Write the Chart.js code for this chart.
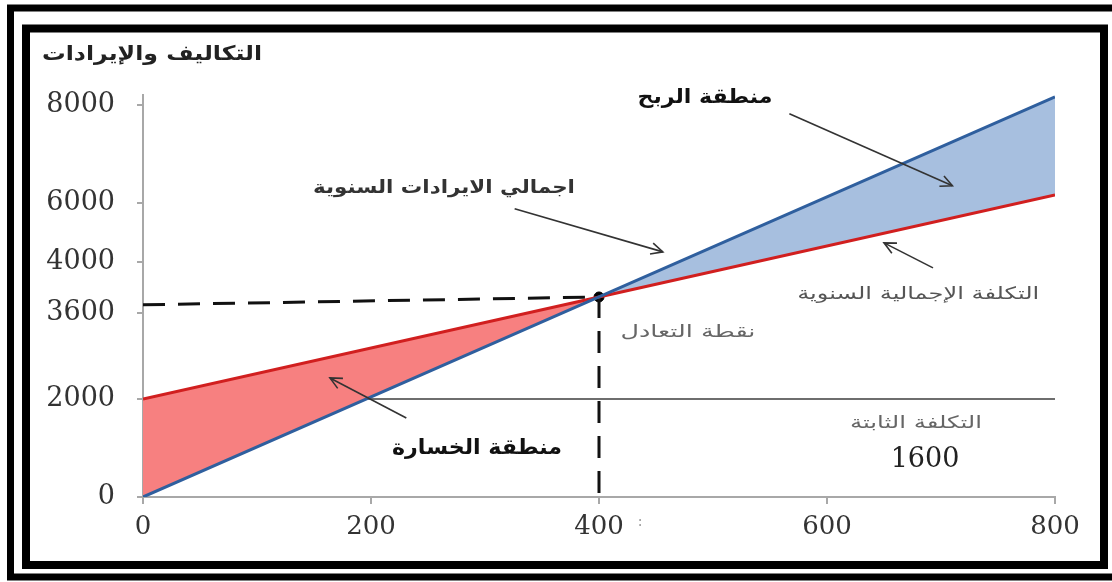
<!DOCTYPE html>
<html>
<head>
<meta charset="utf-8">
<script src="https://cdn.jsdelivr.net/npm/chart.js@4"></script>
<style>
  html, body { margin: 0; padding: 0; background: #fff; }
  #box { width: 1112px; height: 582px; position: relative; }
</style>
</head>
<body>
<div id="box"><canvas id="chart"></canvas></div>
<script>
// valeurs
const units = [0, 400, 800]
const revenue = [0, 4080, 8160]
const totalCost = [2000, 4080, 6160]
const fixedX = [0, 800]
const fixedCost = [2000, 2000]
const breakEvenX = [0, 400, 400]
const breakEvenY = [3920, 4080, 0]
const xTicks = [0, 200, 400, 600, 800]
const yTicks = [0, 2000, 3760, 4800, 6000, 8000]
const yTickLabels = ['0', '2000', '3600', '4000', '6000', '8000']

const AR = '"DejaVu Sans", sans-serif'
const SERIF = '"DejaVu Serif", "Liberation Serif", serif'

// annotations (unités des données), w = largeur visée du texte
const notes = [
    { text: 'منطقة الربح', x: 493, y: 8140, size: 20, w: 135, color: '#111', bold: true, from: [567, 7816], to: [710, 6347] },
    { text: 'اجمالي الايرادات السنوية', x: 264, y: 6306, size: 18, w: 262, color: '#333', bold: true, from: [326, 5878], to: [456, 5000] },
    { text: 'التكلفة الإجمالية السنوية', x: 680, y: 4122, size: 17, w: 242, color: '#555', bold: false, from: [693, 4673], to: [650, 5184] },
    { text: 'نقطة التعادل', x: 478, y: 3347, size: 17, w: 135, color: '#666', bold: false },
    { text: 'منطقة الخسارة', x: 293, y: 980, size: 21, w: 170, color: '#111', bold: true, from: [231, 1612], to: [164, 2429] },
    { text: 'التكلفة الثابتة', x: 678, y: 1490, size: 17, w: 132, color: '#666', bold: false },
    { text: '1600', x: 686, y: 755, size: 27, color: '#222', serif: true }
]

function toPoints(xs, ys) {
    return xs.map((x, i) => ({ x: x, y: ys[i] }))
}

function arrow(ctx, x1, y1, x2, y2) {
    const a = Math.atan2(y2 - y1, x2 - x1), h = 13
    ctx.beginPath()
    ctx.moveTo(x1, y1)
    ctx.lineTo(x2, y2)
    ctx.stroke()
    ctx.beginPath()
    ctx.moveTo(x2 - h * Math.cos(a - 0.45), y2 - h * Math.sin(a - 0.45))
    ctx.lineTo(x2, y2)
    ctx.lineTo(x2 - h * Math.cos(a + 0.45), y2 - h * Math.sin(a + 0.45))
    ctx.stroke()
}

// texte étiré horizontalement pour tenir la largeur voulue
function label(ctx, text, x, y, w) {
    if (!w) {
        ctx.fillText(text, x, y)
        return
    }
    const k = w / ctx.measureText(text).width
    ctx.save()
    ctx.translate(x, y)
    ctx.scale(k, 1)
    ctx.fillText(text, 0, 0)
    ctx.restore()
}

const decor = {
    id: 'decor',
    beforeDraw(chart) {
        const ctx = chart.ctx
        ctx.save()
        ctx.fillStyle = '#fff'
        ctx.fillRect(0, 0, chart.width, chart.height)
        ctx.restore()
    },
    afterDraw(chart) {
        const ctx = chart.ctx
        const sx = chart.scales.x, sy = chart.scales.y
        ctx.save()
        ctx.textAlign = 'center'
        ctx.textBaseline = 'middle'

        // titre de l'axe
        ctx.fillStyle = '#222'
        ctx.font = 'bold 20px ' + AR
        label(ctx, 'التكاليف والإيرادات', 152, 55, 220)

        ctx.fillStyle = '#999'
        ctx.font = '14px ' + SERIF
        ctx.fillText(':', 640, 522)

        notes.forEach(n => {
            ctx.fillStyle = n.color
            ctx.font = (n.bold ? 'bold ' : '') + n.size + 'px ' + (n.serif ? SERIF : AR)
            label(ctx, n.text, sx.getPixelForValue(n.x), sy.getPixelForValue(n.y), n.w)
            if (n.from) {
                ctx.strokeStyle = '#333'
                ctx.lineWidth = 1.6
                arrow(ctx,
                    sx.getPixelForValue(n.from[0]), sy.getPixelForValue(n.from[1]),
                    sx.getPixelForValue(n.to[0]), sy.getPixelForValue(n.to[1]))
            }
        })

        // double cadre noir
        ctx.strokeStyle = '#000'
        ctx.lineWidth = 7
        ctx.strokeRect(10.5, 8, 1106, 569)
        ctx.lineWidth = 8
        ctx.strokeRect(26, 28.5, 1078, 536.5)
        ctx.restore()
    }
}

const axisColor = '#a8a8a8'

new Chart(document.getElementById('chart'), {
    type: 'line',
    data: {
        datasets: [
            {
                data: toPoints(units, revenue),
                borderColor: '#2f5f9e',
                borderWidth: 3,
                pointRadius: 0,
                fill: false
            },
            {
                data: toPoints(units, totalCost),
                borderColor: '#d11f1f',
                borderWidth: 3,
                pointRadius: 0,
                fill: { target: 0, above: 'rgb(247,128,128)', below: 'rgb(167,191,223)' }
            },
            {
                data: toPoints(fixedX, fixedCost),
                borderColor: '#6e6e6e',
                borderWidth: 2,
                pointRadius: 0,
                fill: false
            },
            {
                data: toPoints(breakEvenX, breakEvenY),
                borderColor: '#111',
                borderWidth: 3,
                borderDash: [22, 13],
                pointRadius: 0,
                fill: false
            },
            {
                data: toPoints([400], [4080]),
                showLine: false,
                pointRadius: 5,
                pointBackgroundColor: '#000',
                pointBorderColor: '#000'
            }
        ]
    },
    options: {
        responsive: true,
        maintainAspectRatio: false,
        animation: false,
        layout: { padding: { left: 0, top: 95, right: 57, bottom: 0 } },
        plugins: { legend: { display: false }, tooltip: { enabled: false } },
        scales: {
            x: {
                type: 'linear',
                min: 0,
                max: 800,
                afterBuildTicks: s => { s.ticks = xTicks.map(v => ({ value: v })) },
                afterFit: s => { s.height = 85 },
                border: { color: axisColor, width: 2 },
                grid: { drawOnChartArea: false, tickLength: 7, color: axisColor, lineWidth: 2 },
                ticks: { autoSkip: false, maxRotation: 0, padding: 8, color: '#333', font: { family: SERIF, size: 26 } }
            },
            y: {
                min: 0,
                max: 8200,
                afterBuildTicks: s => { s.ticks = yTicks.map(v => ({ value: v })) },
                afterFit: s => { s.width = 143 },
                border: { color: axisColor, width: 2 },
                grid: { drawOnChartArea: false, tickLength: 6, color: axisColor, lineWidth: 2 },
                ticks: {
                    autoSkip: false,
                    padding: 22,
                    color: '#333',
                    font: { family: SERIF, size: 27 },
                    callback: v => yTickLabels[yTicks.indexOf(v)]
                }
            }
        }
    },
    plugins: [decor]
})
</script>
</body>
</html>
